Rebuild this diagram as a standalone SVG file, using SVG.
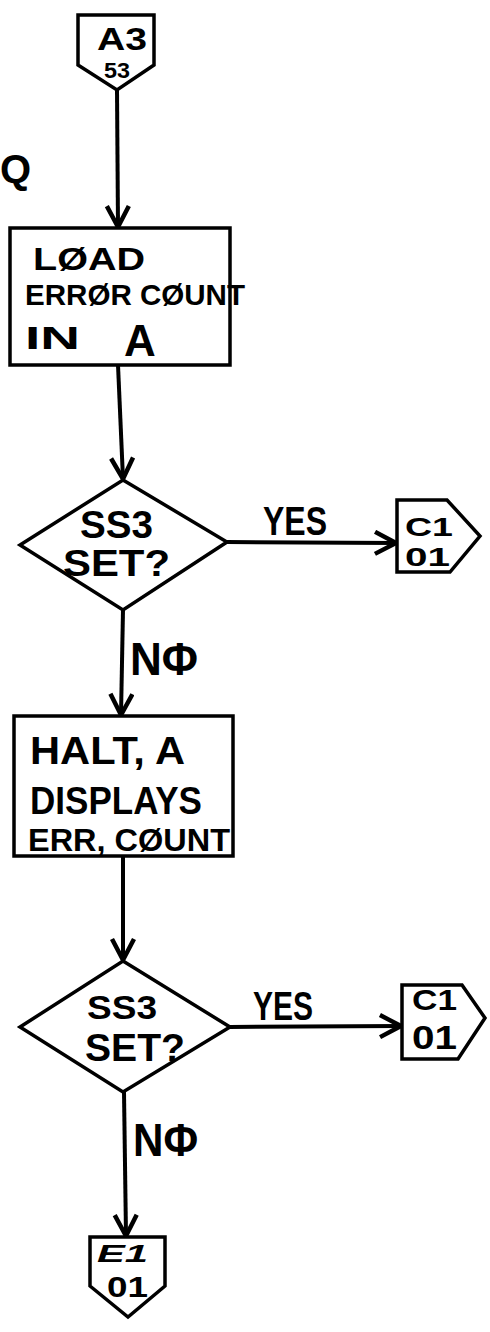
<svg xmlns="http://www.w3.org/2000/svg" width="490" height="1332" viewBox="0 0 490 1332">
<style>
.sh{fill:#fff;stroke:#000;stroke-width:3.5;stroke-linejoin:miter}
.ln{fill:none;stroke:#000;stroke-width:4}
.t{font-family:"Liberation Sans","DejaVu Sans",sans-serif;font-weight:bold;fill:#000}
</style>
<defs>
<marker id="ah" markerWidth="30" markerHeight="30" refX="24" refY="13" orient="auto" markerUnits="userSpaceOnUse">
<path d="M3,2 L24,13 L3,24" fill="none" stroke="#000" stroke-width="4.5"/>
</marker>
</defs>
<rect width="490" height="1332" fill="#fff"/>
<text class="t" x="0" y="183" font-size="40">Q</text>
<g id="connectors">
<path class="ln" d="M117,90 L118,227" marker-end="url(#ah)"/>
<path class="ln" d="M118,365 L123,479" marker-end="url(#ah)"/>
<path class="ln" d="M227,542 L396,543" marker-end="url(#ah)"/>
<path class="ln" d="M123,610 L121,715" marker-end="url(#ah)"/>
<path class="ln" d="M123,856 L123,960" marker-end="url(#ah)"/>
<path class="ln" d="M230,1027 L401,1026" marker-end="url(#ah)"/>
<path class="ln" d="M124,1092 L126,1236" marker-end="url(#ah)"/>
<text class="t" x="263" y="535" font-size="40" textLength="64" lengthAdjust="spacingAndGlyphs">YES</text>
<text class="t" x="130" y="675" font-size="46" textLength="68" lengthAdjust="spacingAndGlyphs">NΦ</text>
<text class="t" x="253" y="1020" font-size="40" textLength="60" lengthAdjust="spacingAndGlyphs">YES</text>
<text class="t" x="133" y="1156" font-size="46" textLength="65" lengthAdjust="spacingAndGlyphs">NΦ</text>
</g>
<g id="start-A3">
<path class="sh" d="M78,15 L154,15 L154,65 L117,90 L78,65 Z"/>
<text class="t" x="97" y="50" font-size="32" textLength="50" lengthAdjust="spacingAndGlyphs">A3</text>
<text class="t" x="104" y="78" font-size="22" textLength="26" lengthAdjust="spacingAndGlyphs">53</text>
</g>
<g id="load-error-count">
<rect class="sh" x="10" y="228" width="220" height="137"/>
<text class="t" x="33" y="270" font-size="32" textLength="112" lengthAdjust="spacingAndGlyphs">LØAD</text>
<text class="t" x="25" y="305" font-size="30" textLength="220" lengthAdjust="spacingAndGlyphs">ERRØR CØUNT</text>
<text class="t" y="349" font-size="32"><tspan x="25" textLength="55" lengthAdjust="spacingAndGlyphs">IN</tspan><tspan x="124" y="356" font-size="44">A</tspan></text>
</g>
<g id="ss3-set-1">
<path class="sh" d="M123,480 L227,542 L123,610 L20,545 Z"/>
<text class="t" x="80" y="538" font-size="38" textLength="73" lengthAdjust="spacingAndGlyphs">SS3</text>
<text class="t" x="63" y="576" font-size="36" textLength="107" lengthAdjust="spacingAndGlyphs">SET?</text>
</g>
<g id="to-C1-01-a">
<path class="sh" d="M397,500 L447,500 L480,536 L450,572 L397,572 Z"/>
<text class="t" x="405" y="536" font-size="26" textLength="48" lengthAdjust="spacingAndGlyphs">C1</text>
<text class="t" x="405" y="566" font-size="26" textLength="45" lengthAdjust="spacingAndGlyphs">01</text>
</g>
<g id="halt-display">
<rect class="sh" x="14" y="716" width="219" height="140"/>
<text class="t" x="30" y="764" font-size="38" textLength="155" lengthAdjust="spacingAndGlyphs">HALT, A</text>
<text class="t" x="30" y="814" font-size="38" textLength="172" lengthAdjust="spacingAndGlyphs">DISPLAYS</text>
<text class="t" x="28" y="851" font-size="31" textLength="202" lengthAdjust="spacingAndGlyphs">ERR, CØUNT</text>
</g>
<g id="ss3-set-2">
<path class="sh" d="M123,961 L230,1027 L123,1092 L20,1027 Z"/>
<text class="t" x="87" y="1019" font-size="34" textLength="70" lengthAdjust="spacingAndGlyphs">SS3</text>
<text class="t" x="85" y="1061" font-size="38" textLength="100" lengthAdjust="spacingAndGlyphs">SET?</text>
</g>
<g id="to-C1-01-b">
<path class="sh" d="M402,985 L462,985 L485,1018 L458,1059 L402,1059 Z"/>
<text class="t" x="412" y="1010" font-size="30" textLength="45" lengthAdjust="spacingAndGlyphs">C1</text>
<text class="t" x="412" y="1049" font-size="34" textLength="45" lengthAdjust="spacingAndGlyphs">01</text>
</g>
<g id="to-E1-01">
<path class="sh" d="M90,1237 L165,1237 L165,1286 L128,1317 L90,1286 Z"/>
<text class="t" x="97" y="1262" font-size="24" font-style="italic" textLength="51" lengthAdjust="spacingAndGlyphs">E1</text>
<text class="t" x="107" y="1297" font-size="29" textLength="41" lengthAdjust="spacingAndGlyphs">01</text>
</g>
</svg>
